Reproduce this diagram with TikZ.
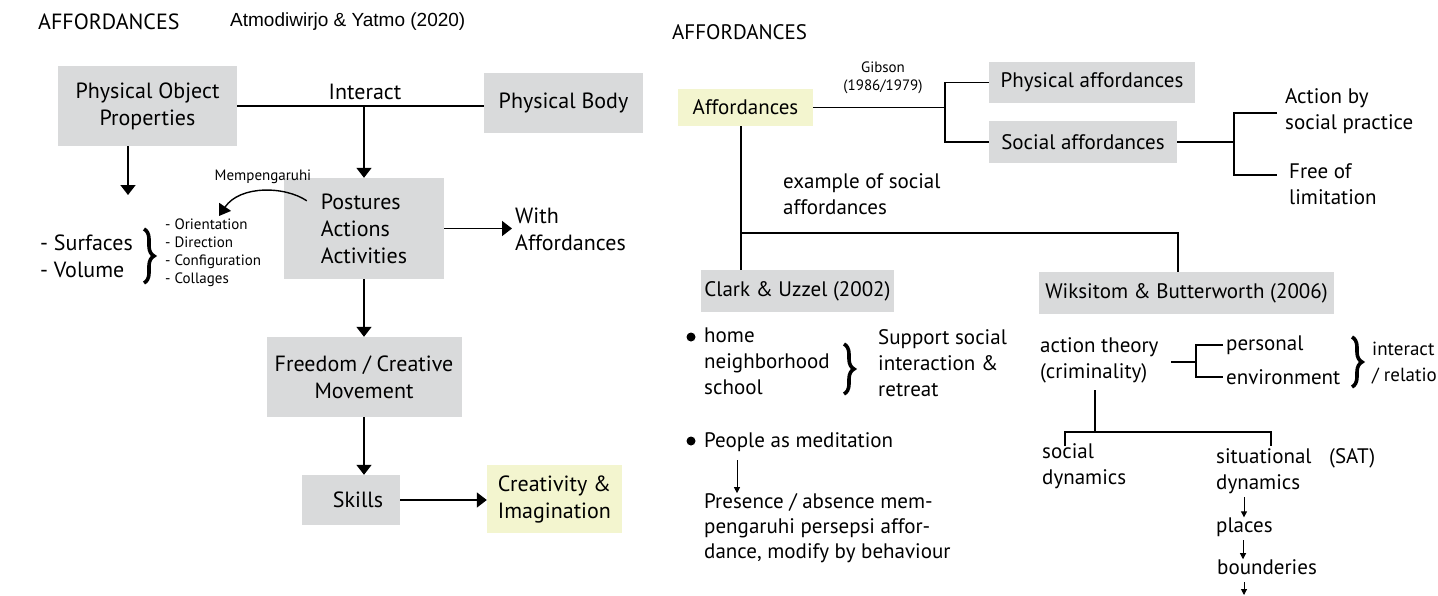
\documentclass[tikz,border=0pt]{standalone}
\usepackage{fontspec}
\setmainfont{PT Sans}
\newfontfamily\arialfont{Liberation Sans}
\usetikzlibrary{arrows.meta,decorations.pathreplacing}
\definecolor{boxgray}{RGB}{217,218,219}
\definecolor{boxyellow}{RGB}{243,245,207}
\begin{document}
\begin{tikzpicture}[x=1pt,y=-1pt,
  gbox/.style={fill=boxgray, inner sep=0pt, align=center, font=\fontsize{22}{27}\selectfont},
  ybox/.style={gbox, fill=boxyellow},
  rbox/.style={gbox, font=\fontsize{21}{26}\selectfont},
  txt/.style={inner sep=0pt, align=left, font=\fontsize{21}{26}\selectfont, anchor=west},
  ltxt/.style={txt, font=\fontsize{22}{27}\selectfont},
  small/.style={inner sep=0pt, align=left, font=\fontsize{15}{18}\selectfont},
  conn/.style={line width=1.6pt},
  thinconn/.style={line width=1.4pt},
  arr/.style={conn, -{Triangle[width=15pt,length=10pt]}},
  tinyarr/.style={line width=1pt, -{Triangle[width=6pt,length=6pt]}},
  bracestyle/.style={decorate, decoration={brace, amplitude=10pt}, line width=3.6pt},
]
\useasboundingbox (0,0) rectangle (1438,595);
\clip (0,0) rectangle (1438,595);
% ---------- left diagram ----------
\node[ltxt] (t1) at (38,22) {AFFORDANCES};
\node[anchor=west, inner sep=0pt, font=\arialfont\fontsize{19}{20}\selectfont] (t2) at (230,22) {Atmodiwirjo \& Yatmo (2020)};

\node[gbox, minimum width=179pt, minimum height=80pt] (pop) at (147.5,106) {Physical Object\\Properties};
\node[gbox, minimum width=159pt, minimum height=60pt] (pb) at (563.5,103) {Physical Body};
\node[gbox, minimum width=160pt, minimum height=101pt, align=left] (post) at (364,228.5) {Postures\\Actions\\Activities};
\node[gbox, minimum width=195pt, minimum height=80pt] (free) at (364,377) {Freedom / Creative\\Movement};
\node[gbox, minimum width=98pt, minimum height=50pt] (sk) at (351,500) {\hspace*{14pt}Skills};
\node[ybox, minimum width=135pt, minimum height=68pt, align=left] (cre) at (554.5,499) {Creativity \&\\Imagination};

\node[inner sep=0pt, font=\fontsize{22}{24}\selectfont] (inter) at (365,92) {Interact};
\draw[conn] (pop.east) -- (pop.east -| pb.west);
\draw[arr] (pop.east -| post.north) -- (post.north);
\coordinate (popend) at (128,195);
\draw[arr] (pop.south -| popend) -- (popend);

\coordinate (mpend) at (219,216);
\draw[thinconn, -{Triangle[width=14pt,length=11pt]}] ([xshift=23pt,yshift=-23pt]post.north west) .. controls (285,186) and (240,185) .. (mpend);
\node[small, anchor=south] (mp) at (263,184) {Mempengaruhi};

\node[ltxt] (sv) at (40,256) {- Surfaces\\- Volume};
\coordinate (b1a) at (144,229);
\coordinate (b1b) at (144,283);
\draw[bracestyle] (b1a) -- (b1b);
\node[small, anchor=west] (lst) at (165,253) {- Orientation\\- Direction\\- Configuration\\- Collages};

\node[ltxt] (wa) at (515,229.5) {With\\Affordances};
\draw[arr] (post.east) -- ([xshift=-3pt]post.east -| wa.west);
\draw[arr] (post.south) -- (post.south |- free.north);
\draw[arr] (free.south) -- (free.south |- sk.north);
\draw[arr] (sk.east) -- (sk.east -| cre.west);

% ---------- right diagram ----------
\node[txt] (t3) at (672,32) {AFFORDANCES};
\node[ybox, rbox, fill=boxyellow, minimum width=135pt, minimum height=37pt] (aff) at (745.5,107.5) {Affordances};
\node[rbox, minimum width=206pt, minimum height=41pt] (phys) at (1092,82.5) {Physical affordances};
\node[rbox, minimum width=188pt, minimum height=42pt] (soc) at (1083,142) {Social affordances};
\node[small, align=center] (gib) at (883,78) {Gibson\\(1986/1979)};
\coordinate (gj) at (945,108);
\draw[conn] (aff.east) -- (aff.east -| gj);
\draw[conn] (phys.west) -- (phys.west -| gj) -- (soc.west -| gj) -- (soc.west);

\coordinate (sj) at (1234,142);
\coordinate (ab) at (1277,113);
\coordinate (fl) at (1277,175);
\draw[conn] (soc.east) -- (sj);
\draw[conn] (ab) -- (ab -| sj) -- (fl -| sj) -- (fl);
\node[txt] (abt) at (1285,111) {Action by\\social practice};
\node[txt] (flt) at (1289,184.5) {Free of\\limitation};

\node[rbox, minimum width=193pt, minimum height=42pt] (cl) at (797.5,291) {Clark \& Uzzel (2002)};
\node[rbox, minimum width=295pt, minimum height=42pt] (wik) at (1186.5,293) {Wiksitom \& Butterworth (2006)};
\coordinate (hj) at (741,233);
\coordinate (wj) at (1178,233);
\draw[conn] ([xshift=-4.5pt]aff.south) -- ([xshift=-4.5pt]aff.south |- cl.north);
\draw[conn] (hj) -- (wj) -- (wj |- wik.north);
\node[txt] (ex) at (783,194) {example of social\\affordances};

\fill (691,337) circle (4.5pt);
\node[txt] (home) at (704,361) {home\\neighborhood\\school};
\coordinate (b2a) at (844,344);
\coordinate (b2b) at (844,394);
\draw[bracestyle] (b2a) -- (b2b);
\node[txt] (sup) at (878,363) {Support social\\interaction \&\\retreat};

\fill (691,441) circle (4.5pt);
\node[txt] (ppl) at (704,442) {People as meditation};
\node[txt, font=\fontsize{21}{25}\selectfont] (pres) at (704,528) {Presence / absence mem-\\pengaruhi persepsi affor-\\dance, modify by behaviour};
\coordinate (pa1) at (737,460);
\draw[tinyarr] (pa1) -- (pa1 |- pres.north);

\node[txt] (act) at (1040,360) {action theory\\(criminality)};
\coordinate (aj) at (1196,362);
\coordinate (as) at (1171,362);
\node[txt] (per) at (1226,345) {personal};
\node[txt] (env) at (1226,377) {environment};
\draw[thinconn] (as) -- (aj);
\draw[thinconn] ([xshift=-3pt]per.west) -- (per.west -| aj) -- (env.west -| aj) -- ([xshift=-3pt]env.west);
\coordinate (b3a) at (1352,337);
\coordinate (b3b) at (1352,387);
\draw[bracestyle] (b3a) -- (b3b);
\node[txt, font=\fontsize{19}{26}\selectfont] (inr) at (1372,363) {interact\\/ relatio};

\coordinate (dtop) at (1095,390);
\coordinate (dj) at (1095,432);
\coordinate (sd1) at (1065,446);
\coordinate (sd2) at (1271,446);
\draw[thinconn] (dtop) -- (dj);
\draw[thinconn] (sd1) -- (sd1 |- dj) -- (sd2 |- dj) -- (sd2);
\node[txt] (sdy) at (1042,466) {social\\dynamics};
\node[txt] (sit) at (1216,471) {situational\\dynamics};
\node[txt] (sat) at (1329,458) {(SAT)};
\node[txt] (pl) at (1216,527) {places};
\node[txt] (bd) at (1217,567) {bounderies};
\coordinate (a1) at (1244,497);
\coordinate (a2) at (1243,540);
\coordinate (a3) at (1244,582);
\coordinate (a3e) at (1244,595);
\draw[tinyarr] (a1) -- (a1 |- pl.north);
\draw[tinyarr] (a2) -- (a2 |- bd.north);
\draw[tinyarr] (a3) -- (a3e);
\end{tikzpicture}
\end{document}
